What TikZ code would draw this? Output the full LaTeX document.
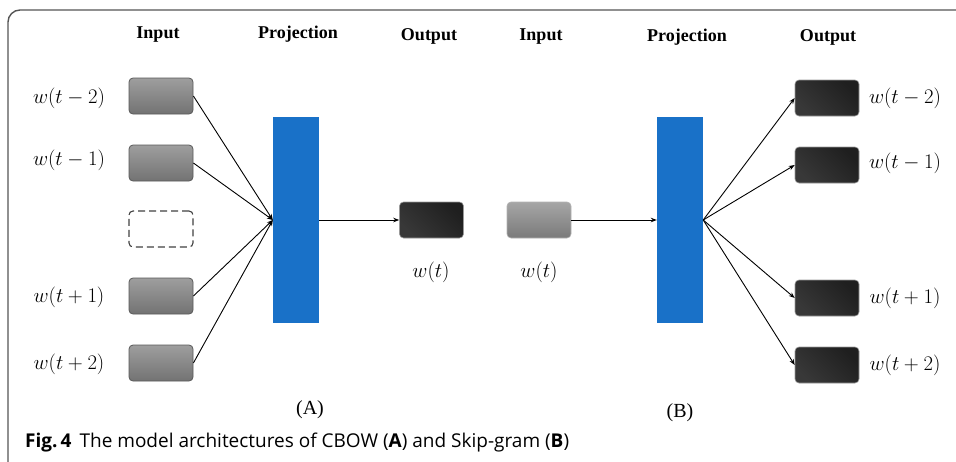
\documentclass[tikz,border=0pt]{standalone}
\usepackage{fontspec}
\setmainfont{Liberation Serif}
\newfontfamily\capfont{Open Sans}
\usetikzlibrary{arrows.meta}
\definecolor{projblue}{RGB}{25,113,200}
\definecolor{framegray}{RGB}{85,85,85}
\tikzset{
  wordbox/.style={rounded corners=4pt, minimum width=64pt, minimum height=36pt, inner sep=0pt},
  inbox/.style={wordbox, draw=black!65, line width=0.8pt, top color=black!38, bottom color=black!55},
  lightbox/.style={wordbox, draw=black!30, line width=0.6pt, top color=black!35, bottom color=black!52},
  gapbox/.style={wordbox, draw=black!75, line width=1.1pt, dash pattern=on 7pt off 4pt},
  outbox/.style={wordbox, draw=black!40, line width=0.6pt, shading=axis, left color=black!78, right color=black!88, shading angle=135},
  projbar/.style={fill=projblue, minimum width=46pt, minimum height=206pt, inner sep=0pt},
  head/.style={font=\fontsize{18}{20}\selectfont\bfseries},
  wlabel/.style={font=\fontsize{20}{22}\selectfont},
  sublabel/.style={font=\fontsize{20}{22}\selectfont},
  link/.style={line width=0.9pt, -{Stealth[length=6pt,width=4.5pt]}},
}
\begin{document}
\begin{tikzpicture}[x=1pt,y=-1pt]
\useasboundingbox (0,0) rectangle (956,461);
% open frame: top and left edges only
\draw[framegray, line width=1.4pt, rounded corners=12pt] (8,470) -- (8,10) -- (970,10);

% column headings
\node[head] (hIa) at (158,35) {Input};
\node[head] (hPa) at (298,34) {Projection};
\node[head] (hOa) at (429,36) {Output};
\node[head] (hIb) at (541,37) {Input};
\node[head] (hPb) at (687,37) {Projection};
\node[head] (hOb) at (828,37) {Output};

% CBOW
\node[inbox] (a1) at (161,96) {};
\node[inbox] (a2) at (161,163) {};
\node[gapbox] (a0) at (161,229) {};
\node[inbox] (a3) at (161,296) {};
\node[inbox] (a4) at (161,363) {};
\node[wlabel] (la1) at (69,98) {$w(t-2)$};
\node[wlabel] (la2) at (69,160) {$w(t-1)$};
\node[wlabel] (la3) at (69,297) {$w(t+1)$};
\node[wlabel] (la4) at (69,364) {$w(t+2)$};
\node[projbar] (pa) at (296,220) {};
\node[outbox] (oa) at (431.5,220) {};
\node[wlabel] (loa) at (431,272) {$w(t)$};
\foreach \n in {a1,a2,a3,a4} \draw[link] (\n.east) -- (pa.west);
\draw[link] (pa.east) -- (oa.west);
\node[sublabel] (capA) at (310,410) {(A)};

% Skip-gram
\node[lightbox] (ib) at (539,220) {};
\node[wlabel] (lib) at (539,272) {$w(t)$};
\node[projbar] (pb) at (680,220) {};
\draw[link] (ib.east) -- (pb.west);
\node[outbox] (b1) at (827,98) {};
\node[outbox] (b2) at (827,165) {};
\node[outbox] (b3) at (827,298) {};
\node[outbox] (b4) at (827,365) {};
\node[wlabel] (lb1) at (905,98) {$w(t-2)$};
\node[wlabel] (lb2) at (905,163) {$w(t-1)$};
\node[wlabel] (lb3) at (905,298) {$w(t+1)$};
\node[wlabel] (lb4) at (905,365) {$w(t+2)$};
\foreach \n in {b1,b2,b3,b4} \draw[link] (pb.east) -- (\n.west);
\node[sublabel] (capB) at (680,413) {(B)};

% caption
\node[anchor=base west, inner sep=0pt, font=\capfont\fontsize{19}{21}\selectfont] (cap) at (25,447)
  {\textbf{Fig.\,4}\hspace{8pt}The model architectures of CBOW (\textbf{A}) and Skip-gram (\textbf{B})};
\end{tikzpicture}
\end{document}
